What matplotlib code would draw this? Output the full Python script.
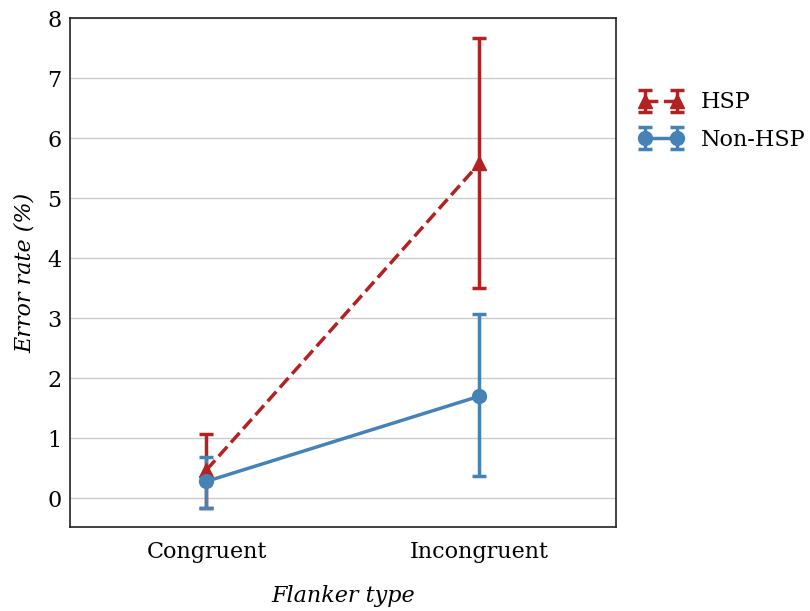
import matplotlib.pyplot as plt

plt.rcParams['font.family'] = 'DejaVu Serif'

flanker = ['Congruent', 'Incongruent']
groups = ['HSP', 'Non-HSP']

# mean error rate and 95% CI bounds per flanker type
hsp_mean = [0.47, 5.58]
hsp_lo = [-0.17, 3.50]
hsp_hi = [1.07, 7.67]

non_mean = [0.28, 1.70]
non_lo = [-0.17, 0.37]
non_hi = [0.68, 3.07]

colors = ['#b22222', '#4682b4']
markers = ['^', 'o']
styles = ['--', '-']

fig = plt.figure(figsize=(8.1, 6.11), dpi=100)
ax = fig.add_axes([0.0864, 0.1375, 0.6741, 0.833])

x = list(range(len(flanker)))
series = [(hsp_mean, hsp_lo, hsp_hi), (non_mean, non_lo, non_hi)]
for (m, lo, hi), c, mk, ls, lab in zip(series, colors, markers, styles, groups):
    err = [[a - b for a, b in zip(m, lo)], [b - a for a, b in zip(m, hi)]]
    ax.errorbar(x, m, yerr=err, color=c, marker=mk, markersize=10, linestyle=ls,
                linewidth=2.5, elinewidth=2.5, capsize=5, capthick=2.5, label=lab)

ax.set_xlim(-0.5, 1.5)
ax.set_ylim(-0.48, 8)
ax.set_xticks(x)
ax.set_xticklabels(flanker)
ax.set_yticks(range(0, 9))
ax.tick_params(length=0, labelsize=16)
ax.tick_params(axis='y', pad=6)
ax.tick_params(axis='x', pad=10)
ax.yaxis.grid(True, color='#cccccc', linewidth=1)
ax.set_axisbelow(True)
for sp in ax.spines.values():
    sp.set_color('#222222')
    sp.set_linewidth(1.2)

ax.set_ylabel('Error rate (%)', fontsize=16, style='italic', labelpad=8)
ax.set_xlabel('Flanker type', fontsize=16, style='italic', labelpad=16)

ax.legend(loc='upper left', bbox_to_anchor=(1.005, 0.895), frameon=False,
          fontsize=16, numpoints=2, handlelength=2, handletextpad=0.8,
          labelspacing=0.7)

fig.savefig('out.png', dpi=100)
